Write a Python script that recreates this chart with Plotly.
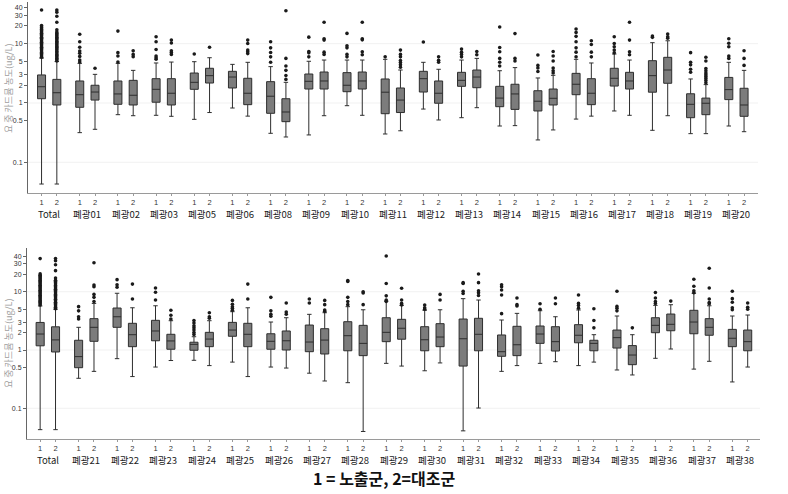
import plotly.graph_objects as go

# ---------------- data ----------------
groups_top = ["Total", "폐광01", "폐광02", "폐광03", "폐광05", "폐광06", "폐광08", "폐광09", "폐광10",
              "폐광11", "폐광12", "폐광13", "폐광14", "폐광15", "폐광16", "폐광17", "폐광18", "폐광19", "폐광20"]
groups_bot = ["Total", "폐광21", "폐광22", "폐광23", "폐광24", "폐광25", "폐광26", "폐광27", "폐광28",
              "폐광29", "폐광30", "폐광31", "폐광32", "폐광33", "폐광34", "폐광35", "폐광36", "폐광37", "폐광38"]

# top panel, group 1 (exposed)
top1_q3 = [2.97, 2.35, 2.35, 2.57, 3.20, 3.42, 2.29, 3.08, 3.25, 2.54, 3.42, 3.29, 1.91, 1.61, 3.16, 3.85, 5.17, 1.43, 2.70]
top1_med = [1.88, 1.38, 1.42, 1.70, 2.23, 2.74, 1.30, 2.32, 1.99, 1.52, 2.57, 2.41, 1.21, 1.07, 2.07, 2.61, 2.89, 0.95, 1.68]
top1_q1 = [1.18, 0.846, 0.95, 1.03, 1.70, 1.79, 0.67, 1.72, 1.55, 0.66, 1.53, 1.91, 0.866, 0.733, 1.38, 1.93, 1.52, 0.565, 1.14]
top1_hi = [5.7, 4.66, 4.66, 4.73, 4.97, 4.48, 4.1, 5.05, 5.3, 5.45, 4.85, 5.3, 3.5, 2.64, 5.45, 6.7, 10.4, 2.54, 4.85]
top1_lo = [0.043, 0.316, 0.635, 0.62, 0.53, 0.823, 0.308, 0.289, 0.90, 0.30, 0.79, 0.565, 0.409, 0.238, 0.535, 0.733, 0.346, 0.304, 0.409]
# top panel, group 2 (control)
top2_q3 = [2.50, 1.99, 2.41, 2.57, 3.85, 2.61, 1.18, 3.33, 3.33, 1.79, 2.35, 3.60, 2.07, 1.72, 2.57, 3.29, 5.89, 1.21, 1.77]
top2_med = [1.49, 1.53, 1.35, 1.46, 2.89, 1.46, 0.705, 2.35, 2.35, 1.12, 1.46, 2.74, 1.42, 1.20, 1.46, 2.35, 3.60, 0.99, 0.925]
top2_q1 = [0.925, 1.12, 0.925, 0.925, 2.17, 0.937, 0.484, 1.72, 1.72, 0.69, 0.99, 1.81, 0.78, 0.925, 0.937, 1.72, 2.15, 0.635, 0.596]
top2_hi = [5.0, 3.04, 3.55, 4.9, 5.8, 4.85, 2.23, 5.3, 5.3, 3.6, 3.7, 5.65, 3.95, 2.93, 4.73, 5.3, 11.2, 2.04, 3.55]
top2_lo = [0.043, 0.36, 0.61, 0.596, 0.69, 0.60, 0.267, 0.61, 0.62, 0.34, 0.517, 0.833, 0.415, 0.351, 0.60, 0.62, 0.61, 0.304, 0.328]

total1_out = [5.9, 6.2, 6.5, 6.8, 7.1, 7.5, 7.9, 8.3, 8.7, 9.1, 9.6, 10.1, 10.6, 11.1, 11.7, 12.3, 12.9,
              13.6, 14.3, 15.0, 15.8, 16.6, 17.4, 18.3, 19.2, 20.2, 37]
total2_out = [5.1, 5.4, 5.7, 6.0, 6.3, 6.6, 7.0, 7.4, 7.8, 8.2, 8.6, 9.0, 9.5, 10.0, 10.5, 11.0, 11.6,
              12.2, 12.8, 13.5, 14.2, 14.9, 15.7, 17.2, 23, 29, 34, 37]

top1_out = [total1_out, [4.9, 5.3, 6.1, 6.9, 7.5, 8.7, 10.8, 14.4], [4.9, 6.2, 7.06, 16.3],
            [5.45, 5.8, 6.2, 8.0, 10.8, 13.1], [6.7], [], [4.85, 6.0, 7.1, 8.5, 10.8], [6.0, 7.0, 7.4, 12.9],
            [6.0, 6.6, 8.5, 9.2, 14.9], [6.0], [10.7], [6.0, 6.6, 7.2, 8.1], [4.2, 4.85, 5.65, 7.3, 8.6, 19.1],
            [3.4, 3.9, 4.3, 6.45], [6.0, 7.2, 8.5, 10.8, 13.3, 15.5, 17.7], [7.0, 7.8, 8.9, 10.1, 13.1],
            [12.8, 13.5], [3.3, 3.7, 4.4, 4.85, 7.06], [5.65, 6.2, 8.9, 10.2, 12.1]]
top2_out = [total2_out, [3.85], [6.04, 6.6, 7.6], [6.6, 7.1, 7.6, 10.3, 11.5], [8.7], [6.8, 7.3, 7.8, 10.1, 11.5],
            [2.5, 2.9, 3.55, 4.2, 5.65, 36], [6.6, 7.2, 11.5, 12.1, 23], [6.5, 7.3, 11.6, 12.1, 23],
            [4.0, 4.4, 4.8, 5.2, 6.0, 6.6, 7.8], [4.85, 5.25, 6.0], [6.5, 7.4], [5.1, 5.65, 14.8],
            [3.2, 3.5, 3.9, 5.1, 6.2, 7.4], [6.0, 7.2, 9.7, 11.2], [6.5, 7.3, 11.5, 23], [12.4, 13.1, 14.5],
            [2.2, 2.4, 2.6, 2.8, 3.0, 3.2, 3.5, 3.8, 5.1, 5.9], [4.3, 5.65, 7.6]]

# bottom panel, group 1
bot1_q3 = [2.97, 1.47, 5.25, 3.23, 1.36, 2.98, 1.90, 2.68, 3.06, 3.58, 2.51, 3.40, 1.81, 2.58, 2.72, 2.20, 3.58, 4.80, 2.26]
bot1_med = [1.88, 0.77, 3.72, 2.12, 1.25, 2.20, 1.41, 1.37, 1.76, 2.01, 1.50, 1.56, 0.935, 1.88, 1.79, 1.63, 2.65, 3.02, 1.59]
bot1_q1 = [1.18, 0.497, 2.45, 1.44, 0.99, 1.72, 1.03, 0.935, 0.97, 1.39, 0.97, 0.53, 0.78, 1.30, 1.33, 1.08, 1.98, 1.90, 1.14]
bot1_hi = [5.7, 2.45, 9.4, 5.74, 1.69, 4.54, 3.02, 4.09, 5.54, 6.9, 4.8, 7.6, 3.27, 4.72, 4.86, 3.83, 5.83, 9.4, 3.83]
bot1_lo = [0.043, 0.327, 0.71, 0.51, 0.666, 0.62, 0.51, 0.40, 0.275, 0.59, 0.44, 0.041, 0.43, 0.59, 0.54, 0.454, 0.72, 0.47, 0.283]
# bottom panel, group 2
bot2_q3 = [2.50, 3.45, 2.87, 1.86, 2.01, 2.87, 2.12, 2.32, 2.65, 3.36, 2.83, 3.50, 2.55, 2.51, 1.47, 1.19, 4.14, 3.45, 2.20]
bot2_med = [1.49, 2.45, 1.83, 1.43, 1.54, 1.86, 1.44, 1.48, 1.30, 2.36, 1.67, 1.86, 1.23, 1.39, 1.30, 0.82, 2.76, 2.45, 1.39]
bot2_q1 = [0.925, 1.41, 1.14, 1.03, 1.14, 1.14, 1.00, 0.854, 0.80, 1.53, 1.14, 0.97, 0.80, 0.96, 0.97, 0.56, 2.14, 1.79, 0.97]
bot2_hi = [5.0, 6.3, 5.3, 3.18, 3.18, 5.3, 3.58, 4.36, 4.9, 5.83, 4.9, 7.2, 4.25, 3.72, 1.83, 1.83, 5.98, 5.74, 3.98]
bot2_lo = [0.043, 0.43, 0.35, 0.66, 0.54, 0.35, 0.49, 0.294, 0.04, 0.53, 0.60, 0.101, 0.54, 0.63, 0.62, 0.373, 1.04, 0.64, 0.51]

bot1_out = [total1_out, [3.4, 3.72, 4.7, 5.54], [11.9, 13.2, 16.1], [7.2, 9.8, 11.6],
            [1.85, 2.0, 2.2, 2.4, 2.6, 2.9, 3.2], [4.8, 5.2, 5.5, 6.1, 7.1], [3.8, 4.1, 4.7, 8.0], [6.4, 7.5],
            [6.0, 6.8, 8.0, 15.0, 15.6], [6.8, 7.2, 8.5, 13.8, 41], [5.0, 5.3, 5.9], [9.3, 10.2, 13.8, 14.3],
            [4.2, 8.8, 10.7, 12.2, 13.2], [5.0, 6.2], [5.2, 5.8, 6.3, 8.8], [4.7, 5.2, 5.6, 10.2],
            [6.3, 6.8, 7.8, 9.7], [9.6, 10.4, 12.4, 16.4], [4.9, 5.3, 6.6, 7.6, 10.2]]
bot2_out = [total2_out, [6.8, 8.0, 9.0, 12.2, 13, 31.4], [7.5, 13.5], [3.4, 3.95, 4.8], [3.5, 3.72, 4.36],
            [7.5, 13.5], [4.1, 4.5, 6.4], [4.6, 4.86, 6.0, 7.1], [6.0, 9.5, 10.0], [5.9, 6.3, 7.2, 11.5],
            [7.2, 9.0], [8.6, 9.6, 10.4, 14.3, 20.1], [5.7, 6.0, 7.8], [6.2, 7.8], [2.4, 3.2, 5.1], [2.4],
            [6.9], [6.2, 6.5, 7.5, 11.6, 25.2], [5.0, 5.4, 6.4]]

y_tick_vals = [0.1, 0.5, 1, 2, 3, 5, 10, 20, 30, 40]
y_tick_text = ["0.1", "0.5", "1", "2", "3", "5", "10", "20", "30", "40"]
y_title = "요 중 카드뮴 농도(ug/L)"
caption = "1 = 노출군, 2=대조군"

# ---------------- figure ----------------
W, H = 788, 494
OFF = 0.2
BOX_FILL = "#7c7c7c"
BOX_LINE = "#2e2e2e"

fig = go.Figure()

panels = [
    dict(groups=groups_top, xa="x", ya="y",
         s1=(top1_q1, top1_med, top1_q3, top1_lo, top1_hi, top1_out),
         s2=(top2_q1, top2_med, top2_q3, top2_lo, top2_hi, top2_out)),
    dict(groups=groups_bot, xa="x2", ya="y2",
         s1=(bot1_q1, bot1_med, bot1_q3, bot1_lo, bot1_hi, bot1_out),
         s2=(bot2_q1, bot2_med, bot2_q3, bot2_lo, bot2_hi, bot2_out)),
]

for p in panels:
    n = len(p["groups"])
    for sign, series in ((-1, p["s1"]), (1, p["s2"])):
        q1, med, q3, lo, hi, outs = series
        xs = [g + sign * OFF for g in range(n)]
        fig.add_trace(go.Box(
            x=xs, q1=q1, median=med, q3=q3, lowerfence=lo, upperfence=hi,
            width=0.21, whiskerwidth=0.55, boxpoints=False,
            fillcolor=BOX_FILL, line=dict(color=BOX_LINE, width=1),
            xaxis=p["xa"], yaxis=p["ya"], showlegend=False, hoverinfo="skip"))
        ox, oy = [], []
        for x, vals in zip(xs, outs):
            ox += [x] * len(vals)
            oy += vals
        fig.add_trace(go.Scatter(
            x=ox, y=oy, mode="markers",
            marker=dict(size=3.6, color="#1a1a1a"),
            xaxis=p["xa"], yaxis=p["ya"], showlegend=False, hoverinfo="skip"))

def px_x(v):
    return v / W

def px_y(v):
    return 1 - v / H

def xaxis_cfg(n, domain, rng):
    tv, tt = [], []
    for g in range(n):
        tv += [g - OFF, g + OFF]
        tt += ["1", "2"]
    return dict(domain=domain, range=rng, tickmode="array", tickvals=tv, ticktext=tt,
                showline=True, linecolor="#9a9a9a", linewidth=1, ticks="outside", ticklen=2,
                tickcolor="#9a9a9a", tickfont=dict(family="Liberation Sans, Arial", size=7.5, color="#333"),
                showgrid=False, zeroline=False, tickangle=0)

def yaxis_cfg(domain, rng, anchor):
    return dict(type="log", domain=domain, range=rng, anchor=anchor, tickmode="array",
                tickvals=y_tick_vals, ticktext=y_tick_text,
                showline=True, linecolor="#666", linewidth=1, ticks="outside", ticklen=3,
                tickcolor="#666", tickfont=dict(family="Liberation Sans, Arial", size=7, color="#333"),
                showgrid=False, zeroline=False)

fig.update_layout(
    width=W, height=H, margin=dict(l=0, r=0, t=0, b=0),
    paper_bgcolor="white", plot_bgcolor="white",
    xaxis=dict(anchor="y", **xaxis_cfg(len(groups_top), [px_x(28), px_x(758)], [-0.555, 18.565])),
    yaxis=yaxis_cfg([px_y(193), px_y(2)], [-1.518, 1.703], "x"),
    xaxis2=dict(anchor="y2", **xaxis_cfg(len(groups_bot), [px_x(27), px_x(760)], [-0.542, 18.52])),
    yaxis2=yaxis_cfg([px_y(439), px_y(248)], [-1.527, 1.75], "x2"),
)

# faint grid lines
shapes = []
for ya, xa in (("y", "x"), ("y2", "x2")):
    for v in (0.1, 1, 10):
        shapes.append(dict(type="line", xref=f"{xa} domain", yref=ya, x0=0, x1=1, y0=v, y1=v,
                           line=dict(color="#f1f1f1", width=1), layer="below"))
fig.update_layout(shapes=shapes)

annotations = []
for g, name in enumerate(groups_top):
    annotations.append(dict(x=g, xref="x", y=px_y(214), yref="paper", text=name, showarrow=False,
                            borderpad=0,
                            font=dict(family="Noto Sans CJK KR, Liberation Sans", size=9.5, color="#222"),
                            xanchor="center", yanchor="middle"))
for g, name in enumerate(groups_bot):
    annotations.append(dict(x=g, xref="x2", y=px_y(460), yref="paper", text=name, showarrow=False,
                            borderpad=0,
                            font=dict(family="Noto Sans CJK KR, Liberation Sans", size=9.5, color="#222"),
                            xanchor="center", yanchor="middle"))
for yc in (88, 343):
    annotations.append(dict(x=px_x(8), xref="paper", y=px_y(yc), yref="paper", text=y_title,
                            textangle=-90, showarrow=False,
                            font=dict(family="Noto Sans CJK KR", size=9, color="#a0a0a0"),
                            xanchor="center", yanchor="middle"))
annotations.append(dict(x=px_x(384), xref="paper", y=px_y(478), yref="paper", text="<b>" + caption + "</b>",
                        showarrow=False, font=dict(family="Noto Sans CJK KR", size=16, color="#111"),
                        xanchor="center", yanchor="middle"))
fig.update_layout(annotations=annotations)

fig.write_html("out.html")
